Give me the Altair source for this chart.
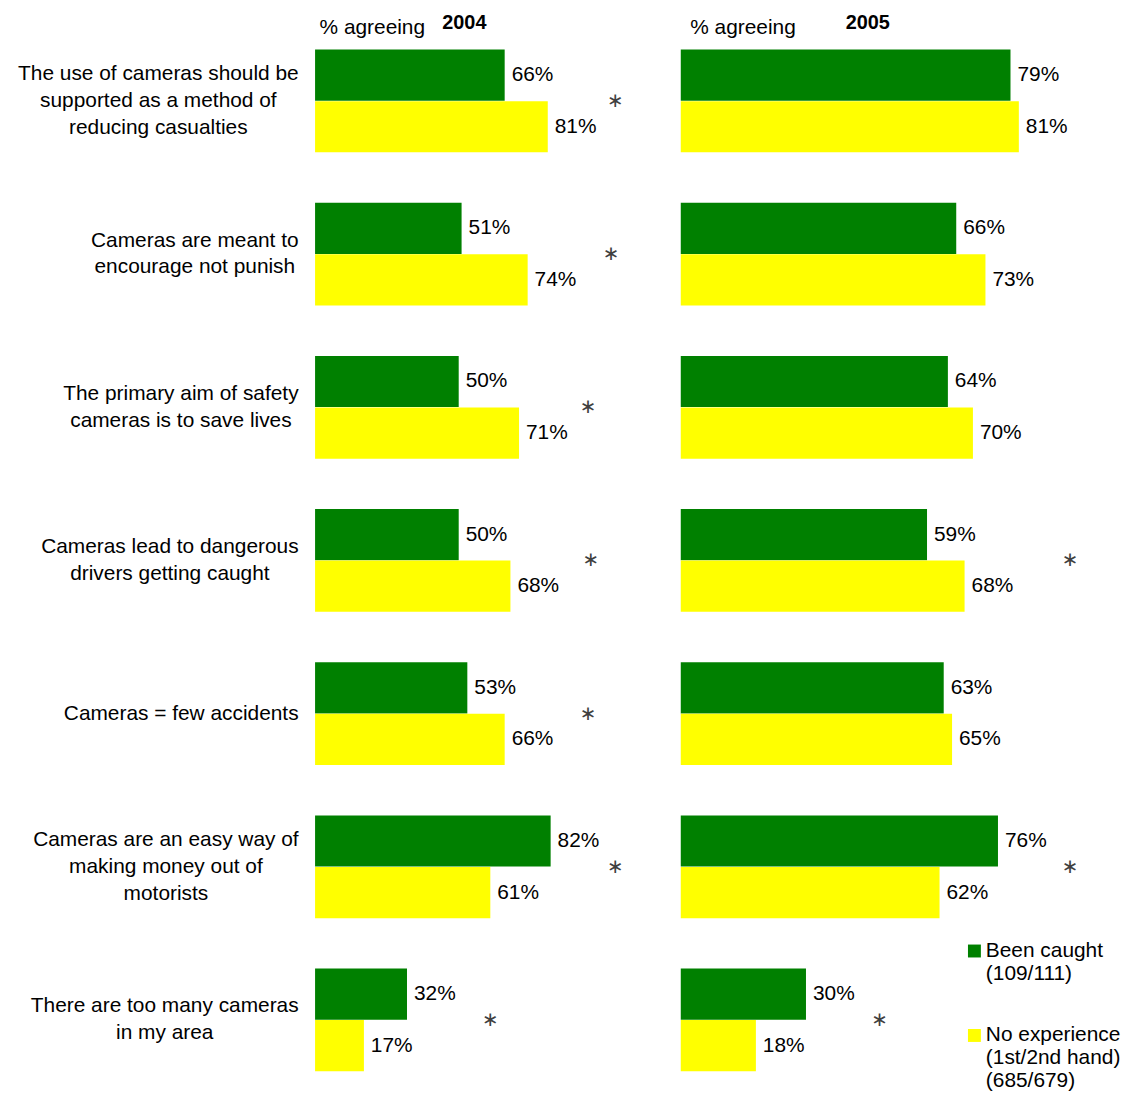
import json
import altair as alt
import pandas as pd

categories = [
    "The use of cameras should be|supported as a method of|reducing casualties",
    "Cameras are meant to|encourage not punish",
    "The primary aim of safety|cameras is to save lives",
    "Cameras lead to dangerous|drivers getting caught",
    "Cameras = few accidents",
    "Cameras are an easy way of|making money out of|motorists",
    "There are too many cameras|in my area",
]
series = ["Been caught|(109/111)", "No experience|(1st/2nd hand)|(685/679)"]
colors = ["#008000", "#FFFF00"]

caught_2004 = [66, 51, 50, 50, 53, 82, 32]
none_2004 = [81, 74, 71, 68, 66, 61, 17]
caught_2005 = [79, 66, 64, 59, 63, 76, 30]
none_2005 = [81, 73, 70, 68, 65, 62, 18]

# significance markers (x position in % units, None = no marker)
star_2004 = [104.5, 103, 95, 96, 95, 104.5, 61]
star_2005 = [None, None, None, 93.3, None, 93.3, 47.6]

FONT = "Liberation Sans"
LABEL_SIZE = 21
LINE_H = 27

# Arial / Liberation Sans advance widths (per 1000 em) used to centre label blocks
_W = {" ": 278, "=": 584, "C": 722, "T": 611, "a": 556, "b": 556, "c": 500, "d": 556,
      "e": 556, "f": 278, "g": 556, "h": 556, "i": 222, "j": 222, "k": 500, "l": 222,
      "m": 833, "n": 556, "o": 556, "p": 556, "q": 556, "r": 333, "s": 500, "t": 278,
      "u": 556, "v": 500, "w": 722, "x": 500, "y": 500, "z": 500}


def text_width(s, size):
    return sum(_W.get(ch, 556) for ch in s) * size / 1000.0


def label_padding_condition(base_pad):
    conds = []
    for c in categories:
        w = max(text_width(line, LABEL_SIZE) for line in c.split("|"))
        conds.append({"test": f"datum.value === {json.dumps(c)}", "value": round(base_pad + w / 2, 1)})
    return {"condition": conds, "value": base_pad}


def label_offset_condition():
    conds = []
    for c in categories:
        n = len(c.split("|"))
        conds.append({"test": f"datum.value === {json.dumps(c)}", "value": -(n - 1) * LINE_H / 2})
    return {"condition": conds, "value": 0}


def bars_frame(caught, none):
    rows = []
    for c, a, b in zip(categories, caught, none):
        rows.append({"category": c, "series": series[0], "value": a, "label": f"{a}%"})
        rows.append({"category": c, "series": series[1], "value": b, "label": f"{b}%"})
    return pd.DataFrame(rows)


def star_frame(stars):
    return pd.DataFrame(
        [{"category": c, "pos": s, "mark": "\u2217"} for c, s in zip(categories, stars) if s is not None]
    )


def panel(caught, none, stars, year, xmax, width, left, title_dx, axis_title_x):
    bars = bars_frame(caught, none)
    starsdf = star_frame(stars)
    yscale = alt.Scale(domain=categories, paddingInner=0.327, paddingOuter=0.06, round=False)
    if left:
        yaxis = alt.Axis(
            title=None, domain=False, ticks=False, grid=False,
            labelExpr="split(datum.label, '|')", labelFont=FONT, labelFontSize=LABEL_SIZE,
            labelColor="black", labelAlign="center", labelOffset=label_offset_condition(),
            labelPadding=label_padding_condition(17), labelLineHeight=LINE_H, labelLimit=500,
        )
    else:
        yaxis = None
    xscale = alt.Scale(domain=[0, xmax], nice=False, zero=True)
    xaxis = alt.Axis(
        orient="top", domain=False, ticks=False, labels=False, grid=False,
        title="% agreeing", titleX=axis_title_x, titleY=-7, titleAlign="left",
        titleAnchor="start", titleBaseline="alphabetic", titleFont=FONT,
        titleFontSize=21, titleFontWeight="normal", titleColor="black",
    )
    if left:
        legend = None
    else:
        legend = alt.Legend(
            orient="none", legendX=285, legendY=912, title=None,
            labelExpr="split(datum.label, '|')", labelFont=FONT, labelFontSize=21,
            labelColor="black", labelBaseline="alphabetic",
            symbolType="M-1,-1.92H1V0.08H-1Z", symbolSize=169, symbolStrokeWidth=0,
            labelOffset=1, rowPadding=40, labelLimit=300, padding=0,
        )
    base = alt.Chart(bars).encode(
        y=alt.Y("category:N", sort=categories, scale=yscale, axis=yaxis),
        yOffset=alt.YOffset("series:N", sort=series, scale=alt.Scale(domain=series)),
    )
    bar = base.mark_bar(size=51.5).encode(
        x=alt.X("value:Q", scale=xscale, axis=xaxis),
        color=alt.Color("series:N", scale=alt.Scale(domain=series, range=colors), legend=legend),
    )
    text = base.mark_text(
        align="left", baseline="middle", dx=7, font=FONT, fontSize=21, color="black"
    ).encode(x=alt.X("value:Q", scale=xscale), text="label:N")
    star = alt.Chart(starsdf).mark_text(
        align="center", baseline="middle", font="DejaVu Sans", fontSize=20, color="#404040"
    ).encode(
        x=alt.X("pos:Q", scale=xscale),
        y=alt.Y("category:N", sort=categories, scale=yscale),
        text="mark:N",
    )
    return alt.layer(bar, text, star).properties(
        width=width, height=1047,
        title=alt.Title(
            year, anchor="start", frame="group", dx=title_dx, font=FONT, fontSize=20,
            fontWeight="bold", color="black", baseline="alphabetic", offset=-33,
        ),
    )


left_panel = panel(caught_2004, none_2004, star_2004, "2004", 110, 318, True, 128, 4)
right_panel = panel(caught_2005, none_2005, star_2005, "2005", 100, 420, False, 166, 9)

chart = (
    alt.hconcat(left_panel, right_panel, spacing=50)
    .resolve_scale(x="independent", color="independent")
    .resolve_legend(color="independent")
    .properties(padding={"left": 9, "top": 2, "right": 0, "bottom": 0}, background="white")
    .configure_view(stroke=None)
)

chart.save("out.html", embed_options={"renderer": "svg", "actions": False})
